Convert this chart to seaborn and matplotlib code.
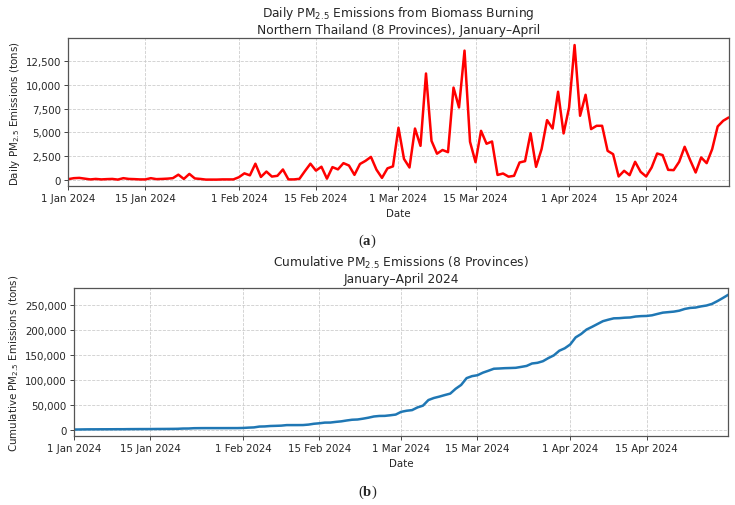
import numpy as np
import pandas as pd
import matplotlib
matplotlib.use("Agg")
import matplotlib.pyplot as plt
import matplotlib.dates as mdates
import matplotlib.ticker as mticker
import seaborn as sns

# ---------------- data ----------------
start_date = "2024-01-01"
end_date = "2024-04-30"

daily_jan = [50, 150, 180, 100, 20, 70, 20, 50, 70, 0, 150, 70, 50, 20, 20, 150,
             50, 70, 100, 150, 520, 70, 600, 120, 70, 0, 0, 0, 20, 20, 20]
daily_feb = [250, 660, 450, 1680, 280, 850, 320, 400, 1070, 20, 20, 80, 900, 1680,
             950, 1360, 100, 1320, 1080, 1740, 1490, 500, 1650, 1980, 2400, 1050,
             180, 1190, 1400]
daily_mar = [5480, 2190, 1280, 5400, 3570, 11220, 4100, 2740, 3130, 2900, 9730,
             7630, 13640, 4000, 1840, 5160, 3790, 4030, 490, 645, 310, 400, 1810,
             1950, 4910, 1350, 3220, 6290, 5400, 9290, 4880]
daily_apr = [7630, 14230, 6750, 8970, 5340, 5690, 5690, 3040, 2690, 330, 930, 470,
             1880, 820, 330, 1280, 2760, 2590, 1030, 1000, 1880, 3470, 2060, 750,
             2340, 1740, 3220, 5620, 6220, 6570]

dates = pd.date_range(start_date, end_date, freq="D")
daily = np.array(daily_jan + daily_feb + daily_mar + daily_apr, dtype=float)
df = pd.DataFrame({"Date": dates, "Daily": daily})
df["Cumulative"] = df["Daily"].cumsum()

# ---------------- style ----------------
sns.set_style("ticks")
plt.rcParams["font.family"] = ["DejaVu Sans"]
plt.rcParams["mathtext.fontset"] = "custom"
plt.rcParams["mathtext.rm"] = "DejaVu Sans"
plt.rcParams["mathtext.it"] = "DejaVu Sans:italic"
plt.rcParams["mathtext.bf"] = "Liberation Serif:bold"

fig = plt.figure(figsize=(7.35, 5.06), dpi=100)
ax1 = fig.add_axes([0.0929, 0.6298, 0.8985, 0.2925])
ax2 = fig.add_axes([0.1007, 0.1358, 0.8902, 0.2931])

tick_fs = 7.35
label_fs = 7.35
title_fs = 8.8

sns.lineplot(data=df, x="Date", y="Daily", ax=ax1, color="red", linewidth=1.8)
sns.lineplot(data=df, x="Date", y="Cumulative", ax=ax2, color="#1f77b4", linewidth=1.8)

ax1.set_title("Daily PM$_{2.5}$ Emissions from Biomass Burning\n"
              "Northern Thailand (8 Provinces), January\u2013April",
              fontsize=title_fs, pad=4)
ax2.set_title("Cumulative PM$_{2.5}$ Emissions (8 Provinces)\nJanuary\u2013April 2024",
              fontsize=title_fs, pad=4)
ax1.set_ylabel("Daily PM$_{2.5}$ Emissions (tons)", fontsize=label_fs, labelpad=3)
ax2.set_ylabel("Cumulative PM$_{2.5}$ Emissions (tons)", fontsize=label_fs, labelpad=3)

for ax, step in ((ax1, 2500), (ax2, 50000)):
    ax.set_xlabel("Date", fontsize=label_fs, labelpad=3)
    ax.set_xlim(dates[0], dates[-1])
    ax.xaxis.set_major_locator(mdates.DayLocator(bymonthday=[1, 15]))
    ax.xaxis.set_major_formatter(mdates.DateFormatter("%-d %b %Y"))
    ax.yaxis.set_major_locator(mticker.MultipleLocator(step))
    ax.yaxis.set_major_formatter(mticker.FuncFormatter(lambda v, p: f"{int(v):,}"))
    ax.tick_params(labelsize=tick_fs, length=2.6, width=0.6, pad=2.5)
    ax.grid(True, linestyle="--", color="#c8c8c8", linewidth=0.6, alpha=0.9)
    for s in ax.spines.values():
        s.set_color("#555555")
        s.set_linewidth(0.9)

fig.text(0.5, 1 - 241 / 506, "(" + r"$\mathbf{a}$" + ")", ha="center", va="center",
         fontsize=10.5, family="Liberation Serif")
fig.text(0.5, 1 - 492 / 506, "(" + r"$\mathbf{b}$" + ")", ha="center", va="center",
         fontsize=10.5, family="Liberation Serif")

fig.savefig("out.png", dpi=100)
